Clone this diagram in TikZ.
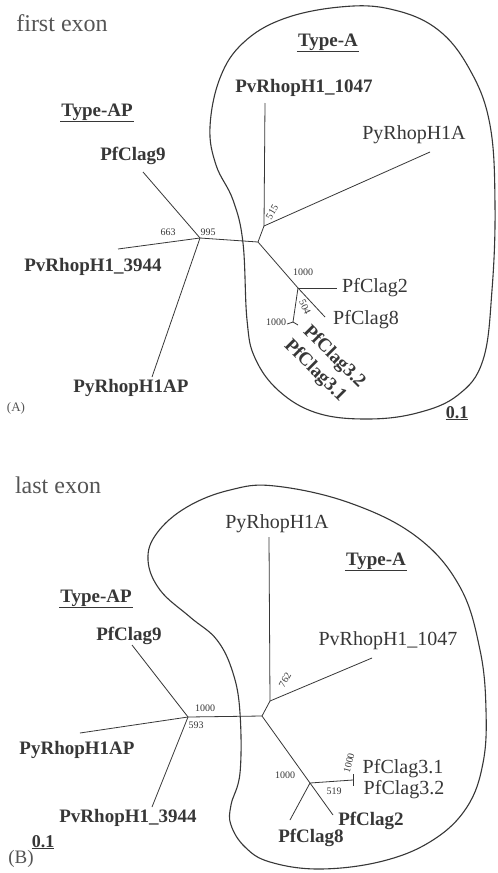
\documentclass[tikz,border=0pt]{standalone}
\usepackage{fontspec}
\setmainfont{Liberation Serif}
\definecolor{ink}{RGB}{55,55,55}
\definecolor{inkl}{RGB}{85,85,85}
\tikzset{
  br/.style={draw=ink, line width=0.8pt},
  bound/.style={draw=ink, line width=1.1pt},
  lb/.style={inner sep=0pt, text=ink, font=\fontsize{19}{21}\selectfont\bfseries},
  lr/.style={inner sep=0pt, text=ink, font=\fontsize{20}{22}\selectfont},
  bs/.style={inner sep=0pt, text=ink, font=\fontsize{10}{11}\selectfont},
  ttl/.style={inner sep=0pt, text=inkl, font=\fontsize{24}{26}\selectfont},
  grp/.style={inner sep=1pt, text=ink, font=\fontsize{19}{21}\selectfont\bfseries},
  ul/.style={draw=ink, line width=1.3pt},
}
\begin{document}
\begin{tikzpicture}[x=1pt,y=-1pt]
\useasboundingbox[fill=white] (0,0) rectangle (498,873);

% ================= Panel A =================
\node[ttl] (titleA) at (62,23) {first exon};
\node[grp] (typeAPa) at (97,112) {Type-AP};
\draw[ul] (typeAPa.south west) -- (typeAPa.south east);
\node[grp] (typeAa) at (328,42) {Type-A};
\draw[ul] (typeAa.south west) -- (typeAa.south east);

\draw[bound] plot[smooth cycle, tension=0.65] coordinates {
  (340,7) (390,9) (437,29) (470,70) (490,125) (495,205) (492,290) (483,360)
  (458,395) (417,413) (367,419) (317,413) (279,391) (255,358) (247,320)
  (243,243) (233,200) (216,165) (210,127) (220,78) (243,43) (283,19)};

\coordinate (Aap) at (200,238);
\coordinate (Ac) at (258,242);
\coordinate (Aj) at (264,226);
\coordinate (At1047) at (265,103);
\coordinate (AtPyA) at (430,152);
\coordinate (At9) at (143,172);
\coordinate (At3944) at (118,249);
\coordinate (AtAP) at (152,377);
\coordinate (Af) at (298,288);
\coordinate (At2) at (337,288);
\coordinate (At8) at (325,317);
\coordinate (Ag) at (293,322);
\coordinate (At31) at (287,324);
\coordinate (At32) at (298,325);

\draw[br] (Aap) -- (At9);
\draw[br] (Aap) -- (At3944);
\draw[br] (Aap) -- (AtAP);
\draw[br] (Aap) -- (Ac);
\draw[br] (Ac) -- (Aj);
\draw[br] (Aj) -- (At1047);
\draw[br] (Aj) -- (AtPyA);
\draw[br] (Ac) -- (Af);
\draw[br] (Af) -- (At2);
\draw[br] (Af) -- (At8);
\draw[br] (Af) -- (Ag);
\draw[br] (Ag) -- (At31);
\draw[br] (Ag) -- (At32);

\node[lb] (lA9) at (133,156) {PfClag9};
\node[lb] (lA3944) at (93,267) {PvRhopH1\_3944};
\node[lb] (lAAP) at (131,388) {PyRhopH1AP};
\node[lb] (lA1047) at (304,88) {PvRhopH1\_1047};
\node[lr] (lAPyA) at (414,135) {PyRhopH1A};
\node[lr] (lA2) at (375,288) {PfClag2};
\node[lr] (lA8) at (366,320) {PfClag8};
\node[lb, rotate=-45] (lA32) at (334,357) {PfClag3.2};
\node[lb, rotate=-45] (lA31) at (315,371) {PfClag3.1};

\node[bs] (bA663) at (168,232) {663};
\node[bs] (bA995) at (208,232) {995};
\node[bs, rotate=60] (bA515) at (272,212) {515};
\node[bs] (bA1000a) at (303,272) {1000};
\node[bs, rotate=-65] (bA504) at (305,307) {504};
\node[bs] (bA1000b) at (276,322) {1000};

\node[lb, font=\fontsize{18}{20}\selectfont\bfseries] (scA) at (457,413) {0.1};
\draw[ul] (scA.south west) -- (scA.south east);
\node[inner sep=0pt, text=inkl, font=\fontsize{13}{15}\selectfont] (labA) at (16,408) {(A)};

% ================= Panel B =================
\node[ttl] (titleB) at (58,485) {last exon};
\node[grp] (typeAPb) at (96,598) {Type-AP};
\draw[ul] (typeAPb.south west) -- (typeAPb.south east);
\node[grp] (typeAb) at (376,561) {Type-A};
\draw[ul] (typeAb.south west) -- (typeAb.south east);

\draw[bound] plot[smooth cycle, tension=0.65] coordinates {
  (275,486) (350,503) (417,537) (460,587) (480,650) (486,710) (483,763)
  (467,807) (433,840) (383,861) (320,869) (270,862) (245,847) (231,825)
  (231,805) (240,773) (240,713) (233,673) (217,640) (190,617) (160,590)
  (148,560) (157,533) (187,507) (230,490)};

\coordinate (Bap) at (188,717);
\coordinate (Bc) at (262,716);
\coordinate (Bj) at (270,701);
\coordinate (BtPyA) at (269,537);
\coordinate (Bt1047) at (372,658);
\coordinate (Bt9) at (132,645);
\coordinate (BtAP) at (80,733);
\coordinate (Bt3944) at (152,807);
\coordinate (Bf) at (310,783);
\coordinate (Bg) at (353,780);
\coordinate (Bt31) at (353,774);
\coordinate (Bt32) at (353,786);
\coordinate (Bt2) at (333,815);
\coordinate (Bt8) at (290,820);

\draw[br] (Bap) -- (Bt9);
\draw[br] (Bap) -- (BtAP);
\draw[br] (Bap) -- (Bt3944);
\draw[br] (Bap) -- (Bc);
\draw[br] (Bc) -- (Bj);
\draw[br] (Bj) -- (BtPyA);
\draw[br] (Bj) -- (Bt1047);
\draw[br] (Bc) -- (Bf);
\draw[br] (Bf) -- (Bg);
\draw[br] (Bg) -- (Bt31);
\draw[br] (Bg) -- (Bt32);
\draw[br] (Bf) -- (Bt2);
\draw[br] (Bf) -- (Bt8);

\node[lb] (lB9) at (129,636) {PfClag9};
\node[lb] (lBAP) at (77,750) {PyRhopH1AP};
\node[lb] (lB3944) at (128,818) {PvRhopH1\_3944};
\node[lr] (lBPyA) at (277,524) {PyRhopH1A};
\node[lr] (lB1047) at (388,641) {PvRhopH1\_1047};
\node[lr] (lB31) at (403,769) {PfClag3.1};
\node[lr] (lB32) at (404,790) {PfClag3.2};
\node[lb] (lB2) at (371,821) {PfClag2};
\node[lb] (lB8) at (311,838) {PfClag8};

\node[bs] (bB1000a) at (205,708) {1000};
\node[bs] (bB593) at (196,725) {593};
\node[bs, rotate=60] (bB762) at (285,680) {762};
\node[bs] (bB1000b) at (285,775) {1000};
\node[bs, rotate=75] (bB1000c) at (349,763) {1000};
\node[bs] (bB519) at (334,791) {519};

\node[lb, font=\fontsize{18}{20}\selectfont\bfseries] (scB) at (43,842) {0.1};
\draw[ul] (scB.south west) -- (scB.south east);
\node[inner sep=0pt, text=inkl, font=\fontsize{19}{21}\selectfont] (labB) at (21,859) {(B)};
\end{tikzpicture}
\end{document}
